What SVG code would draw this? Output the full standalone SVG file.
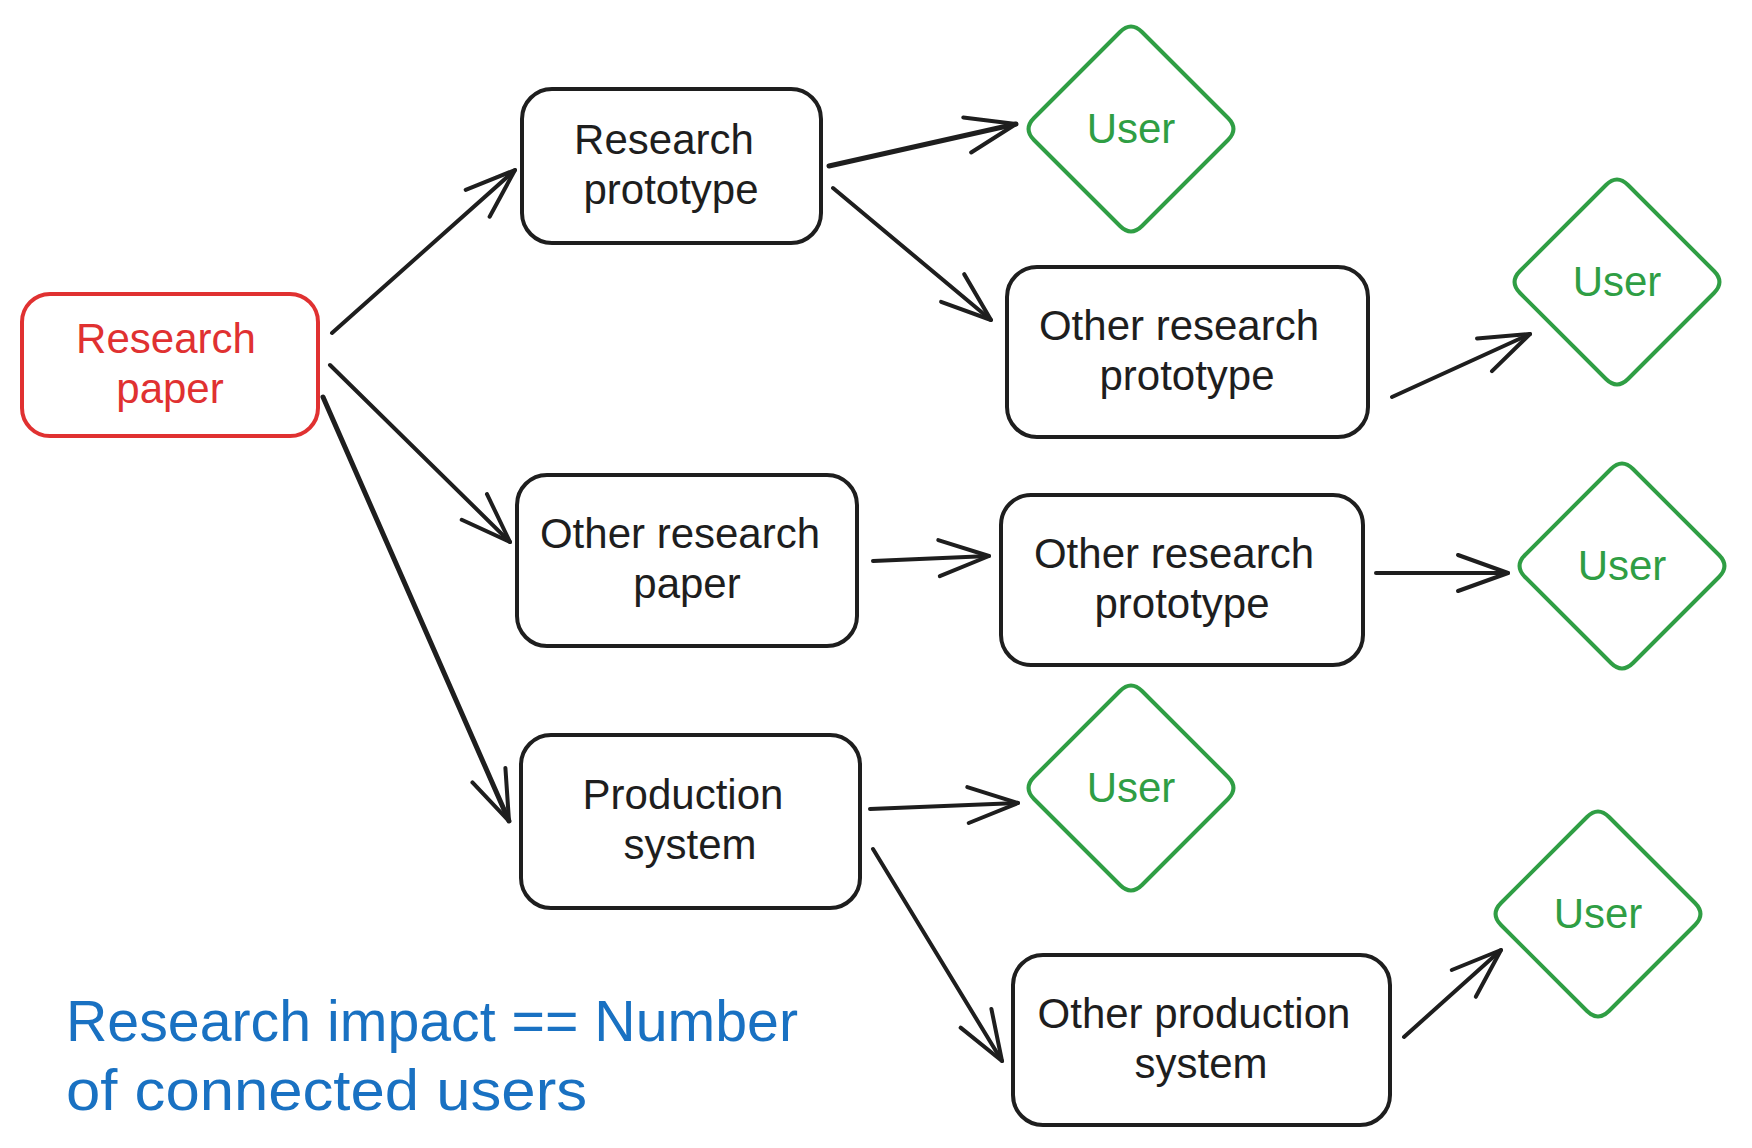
<svg xmlns="http://www.w3.org/2000/svg" width="1752" height="1148" viewBox="0 0 1752 1148">
<style>
.box{fill:none;stroke:#1e1e1e;stroke-width:4}
.red{fill:none;stroke:#e03131;stroke-width:4}
.dia{fill:none;stroke:#2f9e44;stroke-width:4}
.t{font-family:"Liberation Sans",Arial,sans-serif;font-size:42px;text-anchor:middle;fill:#1e1e1e}
.tr{fill:#e03131}
.tg{fill:#2f9e44}
.note{font-family:"Liberation Sans",Arial,sans-serif;font-size:58px;fill:#1971c2}
.c{fill:none;stroke:#1e1e1e;stroke-width:4;stroke-linecap:round;marker-end:url(#ah)}
</style>
<defs>
<marker id="ah" markerUnits="userSpaceOnUse" viewBox="-60 -30 70 60" refX="0" refY="0" markerWidth="70" markerHeight="60" orient="auto" overflow="visible">
<path d="M -50 -18 L 0 0 L -50 18" fill="none" stroke="#1e1e1e" stroke-width="4" stroke-linecap="round" stroke-linejoin="round"/>
</marker>
<path id="diamond" d="M 11 -97 L 97 -11 Q 108 0 97 11 L 11 97 Q 0 108 -11 97 L -97 11 Q -108 0 -97 -11 L -11 -97 Q 0 -108 11 -97 Z"/>
</defs>
<rect width="1752" height="1148" fill="#ffffff"/>

<g id="connectors">
<line class="c" x1="332" y1="333" x2="515" y2="170"/>
<line class="c" x1="330" y1="365" x2="510" y2="542"/>
<line class="c" x1="323" y1="397" x2="509" y2="821" style="stroke-width:5"/>
<line class="c" x1="829" y1="166" x2="1016" y2="124" style="stroke-width:5"/>
<line class="c" x1="833" y1="188" x2="991" y2="320"/>
<line class="c" x1="1392" y1="397" x2="1530" y2="334"/>
<line class="c" x1="873" y1="561" x2="989" y2="556"/>
<line class="c" x1="1376" y1="573" x2="1508" y2="573"/>
<line class="c" x1="870" y1="809" x2="1018" y2="803"/>
<line class="c" x1="873" y1="849" x2="1002" y2="1061"/>
<line class="c" x1="1404" y1="1037" x2="1501" y2="950"/>
</g>

<g id="research-paper">
<rect class="red" x="22" y="294" width="296" height="142" rx="28"/>
<text class="t tr" x="166" y="353">Research</text>
<text class="t tr" x="170" y="403">paper</text>
</g>

<g id="research-prototype">
<rect class="box" x="522" y="89" width="299" height="154" rx="30"/>
<text class="t" x="664" y="154">Research</text>
<text class="t" x="671" y="204">prototype</text>
</g>

<g id="other-research-paper">
<rect class="box" x="517" y="475" width="340" height="171" rx="30"/>
<text class="t" x="680" y="548">Other research</text>
<text class="t" x="687" y="598">paper</text>
</g>

<g id="production-system">
<rect class="box" x="521" y="735" width="339" height="173" rx="30"/>
<text class="t" x="683" y="809">Production</text>
<text class="t" x="690" y="859">system</text>
</g>

<g id="other-research-prototype-1">
<rect class="box" x="1007" y="267" width="361" height="170" rx="30"/>
<text class="t" x="1179" y="340">Other research</text>
<text class="t" x="1187" y="390">prototype</text>
</g>

<g id="other-research-prototype-2">
<rect class="box" x="1001" y="495" width="362" height="170" rx="30"/>
<text class="t" x="1174" y="568">Other research</text>
<text class="t" x="1182" y="618">prototype</text>
</g>

<g id="other-production-system">
<rect class="box" x="1013" y="955" width="377" height="170" rx="30"/>
<text class="t" x="1194" y="1028">Other production</text>
<text class="t" x="1201" y="1078">system</text>
</g>

<g id="user-1">
<use href="#diamond" class="dia" transform="translate(1131,129)"/>
<text class="t tg" x="1131" y="143">User</text>
</g>

<g id="user-2">
<use href="#diamond" class="dia" transform="translate(1617,282)"/>
<text class="t tg" x="1617" y="296">User</text>
</g>

<g id="user-3">
<use href="#diamond" class="dia" transform="translate(1622,566)"/>
<text class="t tg" x="1622" y="580">User</text>
</g>

<g id="user-4">
<use href="#diamond" class="dia" transform="translate(1131,788)"/>
<text class="t tg" x="1131" y="802">User</text>
</g>

<g id="user-5">
<use href="#diamond" class="dia" transform="translate(1598,914)"/>
<text class="t tg" x="1598" y="928">User</text>
</g>

<g id="note">
<text class="note" x="66" y="1041" textLength="732" lengthAdjust="spacingAndGlyphs">Research impact == Number</text>
<text class="note" x="66" y="1110" textLength="521" lengthAdjust="spacingAndGlyphs">of connected users</text>
</g>
</svg>
